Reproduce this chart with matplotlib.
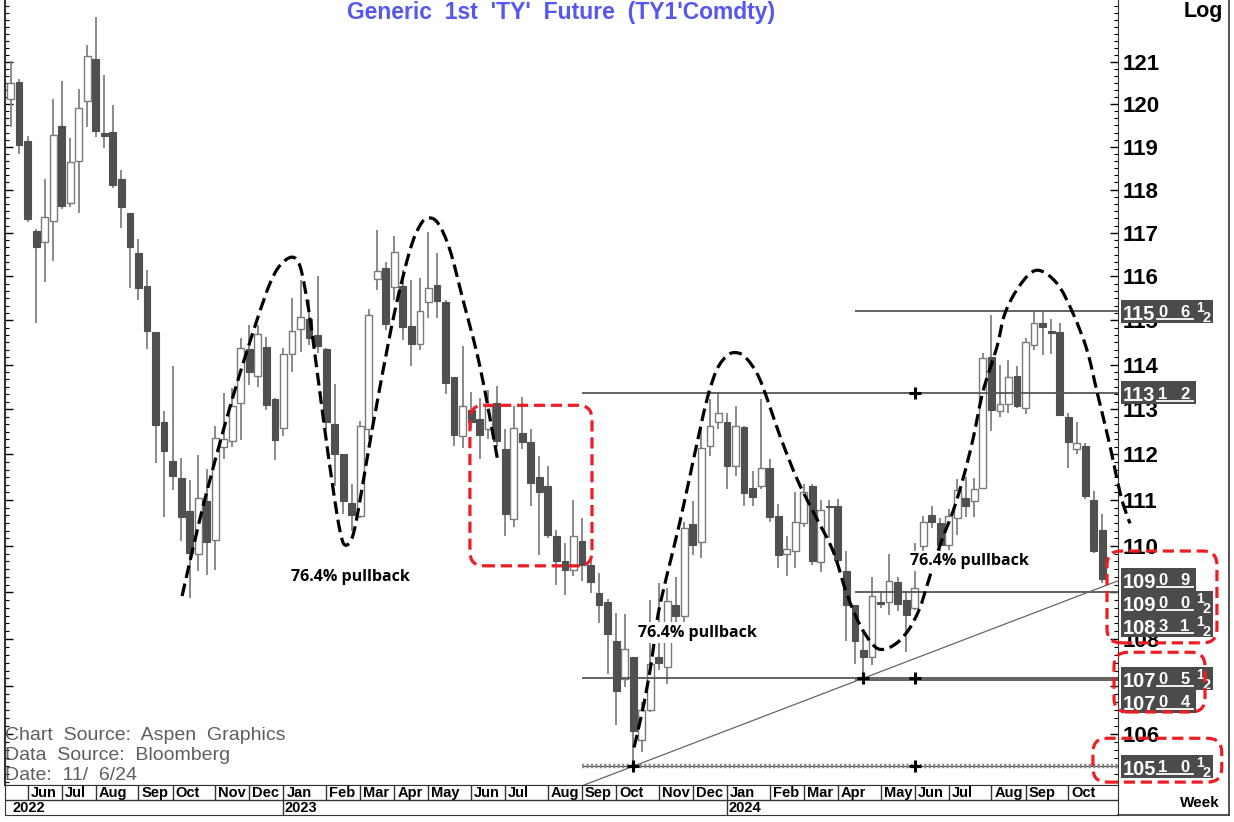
import numpy as np
import pandas as pd
import matplotlib
matplotlib.use("Agg")
import matplotlib.pyplot as plt
from matplotlib import font_manager
from matplotlib.patches import Rectangle, FancyBboxPatch, PathPatch
from matplotlib.path import Path
from matplotlib.lines import Line2D
from matplotlib.transforms import IdentityTransform
from matplotlib.ticker import FixedLocator, NullFormatter

W, H = 1234, 822

# weekly bars, dated by the Monday of each week
week_start = "2022-05-23"
opens = [120.12, 120.52, 119.13, 117.04, 116.78, 117.27, 119.49, 117.69, 118.67, 120.08,
         121.07, 119.32, 119.35, 118.25, 117.45, 116.53, 115.78, 114.74, 112.71, 111.86,
         111.48, 110.75, 109.82, 110.97, 110.12, 112.16, 112.30, 113.15, 114.35, 113.75,
         114.40, 113.22, 112.58, 114.24, 114.80, 115.03, 114.67, 114.35, 112.67, 112.01,
         110.94, 110.66, 112.56, 115.94, 116.19, 115.75, 115.78, 114.87, 114.47, 115.42,
         115.80, 115.42, 113.73, 112.41, 112.98, 112.78, 112.56, 113.15, 112.12, 110.58,
         112.47, 112.27, 111.50, 111.31, 110.21, 109.67, 109.48, 110.10, 109.59, 108.99,
         108.80, 107.95, 107.15, 107.61, 105.87, 106.50, 107.61, 107.40, 108.73, 108.50,
         110.47, 110.08, 112.19, 112.71, 112.71, 111.75, 112.61, 111.27, 111.31, 111.70,
         110.66, 109.82, 109.89, 110.49, 111.31, 109.65, 110.88, 110.86, 109.46, 108.73,
         107.76, 107.63, 108.80, 108.80, 109.22, 108.84, 108.67, 110.00, 110.68, 110.49,
         110.02, 110.60, 111.05, 110.97, 111.27, 114.17, 112.96, 113.13, 113.75, 113.02,
         114.44, 114.94, 114.76, 114.74, 112.82, 112.12, 112.19, 110.99, 110.34]
highs = [121.02, 120.59, 119.25, 117.08, 118.25, 120.12, 120.55, 119.20, 120.36, 121.41,
         122.07, 120.69, 119.98, 118.46, 117.45, 116.85, 116.14, 114.74, 112.96, 113.96,
         111.92, 111.44, 111.99, 111.68, 112.63, 113.37, 113.48, 114.60, 114.90, 114.90,
         114.63, 113.26, 114.38, 115.51, 115.91, 115.46, 116.00, 114.38, 113.57, 112.01,
         111.36, 112.74, 115.26, 117.06, 116.33, 116.92, 116.14, 115.91, 115.96, 117.01,
         116.53, 115.46, 113.73, 114.42, 113.39, 113.26, 113.44, 113.53, 112.56, 113.07,
         113.28, 112.56, 111.97, 111.75, 110.34, 110.06, 110.99, 110.60, 109.74, 109.42,
         108.86, 108.56, 108.54, 107.61, 106.67, 108.84, 109.20, 109.10, 109.33, 110.51,
         110.97, 112.61, 113.22, 113.39, 112.93, 113.07, 112.63, 111.64, 113.22, 111.90,
         110.92, 110.21, 111.18, 111.34, 111.34, 110.99, 111.01, 111.03, 109.89, 108.73,
         108.13, 109.33, 109.03, 109.82, 109.33, 109.03, 110.06, 110.66, 110.86, 110.60,
         110.81, 111.46, 111.51, 111.49, 114.26, 115.12, 114.00, 114.11, 113.96, 114.60,
         115.19, 115.19, 115.03, 114.94, 112.91, 112.71, 112.25, 111.20, 110.70]
lows = [119.46, 118.83, 117.24, 114.94, 115.87, 116.35, 117.55, 117.59, 117.45, 119.46,
        119.23, 118.97, 118.04, 117.10, 115.73, 115.46, 114.35, 111.81, 110.64, 111.23,
        110.10, 108.88, 109.46, 109.37, 109.48, 111.90, 112.16, 112.32, 113.55, 113.50,
        112.98, 111.88, 112.41, 113.84, 114.29, 114.44, 114.26, 112.56, 111.31, 110.70,
        110.32, 110.60, 112.34, 115.69, 114.78, 115.46, 114.56, 113.96, 114.33, 115.06,
        115.06, 113.35, 112.19, 112.14, 112.56, 111.90, 112.34, 112.16, 110.21, 110.42,
        112.12, 110.86, 109.80, 110.17, 109.16, 108.94, 109.35, 109.24, 108.99, 108.35,
        107.25, 106.18, 106.98, 105.33, 105.62, 106.46, 107.34, 107.04, 108.35, 108.35,
        109.80, 109.74, 111.97, 112.56, 111.25, 111.53, 110.86, 110.86, 111.25, 110.53,
        109.52, 109.35, 109.52, 110.42, 109.59, 109.44, 110.17, 109.61, 107.97, 107.48,
        107.17, 107.44, 108.67, 108.52, 108.61, 107.72, 108.63, 109.89, 110.38, 109.85,
        109.91, 110.23, 110.62, 110.62, 111.25, 112.52, 112.82, 112.93, 113.04, 112.89,
        114.33, 114.22, 114.24, 112.87, 111.70, 112.01, 111.03, 109.85, 109.20]
closes = [120.50, 119.04, 117.31, 116.67, 117.36, 119.27, 117.62, 118.64, 119.91, 121.14,
          119.37, 119.25, 118.11, 117.59, 116.67, 115.73, 114.76, 112.65, 112.08, 111.53,
          110.64, 109.85, 111.05, 110.08, 112.36, 112.34, 113.07, 114.38, 113.84, 114.69,
          113.09, 112.32, 114.24, 114.76, 115.08, 114.60, 114.42, 112.71, 112.01, 110.97,
          110.68, 112.63, 115.12, 116.12, 114.92, 116.55, 114.85, 114.47, 115.21, 115.73,
          115.44, 113.59, 112.43, 113.07, 112.71, 112.43, 113.07, 112.30, 110.70, 112.58,
          112.27, 111.38, 111.18, 110.23, 109.67, 109.48, 110.21, 109.59, 109.22, 108.73,
          108.11, 106.90, 107.78, 106.06, 106.50, 107.47, 107.49, 108.82, 108.50, 110.38,
          110.02, 112.14, 112.63, 112.91, 111.75, 112.63, 111.16, 111.07, 111.70, 110.62,
          109.80, 109.93, 110.53, 111.18, 109.67, 110.79, 110.84, 109.69, 108.73, 107.97,
          107.63, 108.93, 108.75, 109.24, 108.75, 108.52, 109.10, 110.51, 110.53, 110.02,
          110.66, 111.23, 110.86, 111.25, 114.15, 112.98, 113.13, 113.73, 113.07, 114.51,
          114.94, 114.85, 114.71, 112.87, 112.27, 112.25, 111.09, 109.89, 109.28]

y_ticks = [106, 107, 108, 109, 110, 111, 112, 113, 114, 115, 116, 117, 118, 119, 120, 121]
# 107 and 109 sit fully under the price tags, so their labels stay blank
y_labels = ["106", "", "108", "", "110", "111", "112", "113", "114", "115", "116",
            "117", "118", "119", "120", "121"]

# horizontal levels and the bar where each starts
levels = [115 + 6.5 / 32, 113 + 12 / 32, 109 + 0.5 / 32, 107 + 5.5 / 32, 107 + 4 / 32]
level_start = [99, 67, 99, 67, 99]
support = 105 + 10.5 / 32
support_start = 67
trend_a = (73, 105 + 10.5 / 32)
trend_b = (100, 107 + 5.5 / 32)
plus_x = [106, 73, 106, 100, 106]
plus_y = [113 + 12 / 32, support, support, 107 + 5.5 / 32, 107 + 5.5 / 32]

# price tags on the right axis: handle, 32nds, half flag
tag_big = ["115", "113", "109", "109", "108", "107", "107", "105"]
tag_small = ["06", "12", "09", "00", "31", "05", "04", "10"]
tag_half = [True, False, False, True, True, True, False, True]
tag_value = [115 + 6.5 / 32, 113 + 12 / 32, 109 + 9 / 32, 109 + 0.5 / 32,
             108 + 31.5 / 32, 107 + 5.5 / 32, 107 + 4 / 32, 105 + 10.5 / 32]

# hand-drawn dashed arcs, (bar, price) waypoints
arc_a = [(20.11, 108.92), (22.22, 110.60), (24.56, 112.27), (26.67, 113.66), (28.90, 115.01),
         (30.42, 115.84), (31.59, 116.25), (33.00, 116.44), (33.94, 116.23), (34.76, 115.46),
         (35.46, 114.56), (36.63, 112.85), (37.81, 111.25), (38.63, 110.32), (39.21, 110.02),
         (40.03, 110.17), (40.74, 110.75), (41.79, 111.90), (43.32, 113.51), (45.08, 115.23),
         (46.83, 116.60), (48.01, 117.17), (48.95, 117.34), (50.12, 117.22), (51.52, 116.60),
         (53.05, 115.46), (55.04, 113.95), (57.15, 111.84)]
arc_b = [(73.10, 105.72), (73.92, 106.35), (74.62, 106.98), (75.21, 107.61), (75.91, 108.52),
         (76.96, 109.37), (78.49, 110.53), (80.01, 111.84), (81.65, 113.22), (82.82, 113.89),
         (84.00, 114.20), (85.05, 114.27), (86.23, 114.15), (87.87, 113.66), (90.21, 112.41),
         (92.21, 111.46), (94.08, 110.75), (96.43, 109.89), (98.07, 108.95), (99.59, 108.30),
         (101.11, 107.88), (102.29, 107.78), (103.93, 107.92), (105.45, 108.24), (106.62, 108.67),
         (107.44, 109.14), (108.97, 110.02), (110.49, 110.75), (111.66, 111.46), (112.84, 112.34),
         (114.01, 113.40), (115.65, 114.40), (116.59, 115.16), (118.35, 115.80), (120.34, 116.14),
         (122.68, 115.84), (124.56, 115.16), (126.20, 114.33), (127.37, 113.40), (128.90, 112.19),
         (129.72, 111.46), (130.42, 110.92), (131.25, 110.49)]

pullback_x = [39.8, 80.5, 112.4]
pullback_y = [109.33, 108.14, 109.67]

# red dashed boxes: bar from, bar to, price top, price bottom
red_boxes = [(53.86, 68.17, 113.09, 109.57), (128.55, 141.44, 109.89, 107.92),
             (129.37, 140.04, 107.72, 106.46), (126.9, 142.0, 105.91, 105.0)]

BOLD = ["Liberation Sans", "DejaVu Sans"]
installed = {f.name for f in font_manager.fontManager.ttflist}
if "Liberation Sans Narrow" in installed:
    NARROW, big_size, small_size, gap = ["Liberation Sans Narrow", "DejaVu Sans"], 17, 13, 0
else:
    NARROW, big_size, small_size, gap = BOLD, 14.5, 12, 4

fig = plt.figure(figsize=(W / 100, H / 100), dpi=100)
ax = fig.add_axes([5 / W, 1 - 785 / H, 1113 / W, 785 / H])
ax.set_yscale("log")
ax.set_ylim(104.94, 122.49)
ax.set_xlim(-0.65, 129.84)

o, h, l, c = map(np.asarray, (opens, highs, lows, closes))
idx = np.arange(len(o))
up = c >= o
lo_b, hi_b = np.minimum(o, c), np.maximum(o, c)
ax.vlines(idx, l, h, color="#8a8a8a", lw=1.4, zorder=2)
ax.bar(idx[up], (hi_b - lo_b)[up], bottom=lo_b[up], width=0.8, color="white",
       edgecolor="#7a7a7a", lw=1.0, zorder=3)
ax.bar(idx[~up], np.maximum(hi_b - lo_b, 0.04)[~up], bottom=lo_b[~up], width=0.8,
       color="#505050", edgecolor="#505050", lw=0.8, zorder=3)

xmax = ax.get_xlim()[1]
for lv, st in zip(levels, level_start):
    ax.hlines(lv, st, xmax, color="#555555", lw=1.3, zorder=4)
ax.hlines(support, support_start, xmax, color="#444444", lw=0.8, zorder=4)
ax.hlines(support, support_start, xmax, color="#888888", lw=3.2,
          linestyles=(0, (0.5, 0.5)), zorder=4)
ax.axline(trend_a, trend_b, color="#666666", lw=0.9, zorder=4)
ax.plot(plus_x, plus_y, ls="none", marker="+", ms=8, mew=2.2, color="black", zorder=6)

# y axis on the right
ax.yaxis.tick_right()
ax.set_yticks(y_ticks, y_labels, fontsize=16, fontweight="bold", family=BOLD)
ax.yaxis.set_minor_locator(FixedLocator(np.arange(105, 122.5, 1 / 6)))
ax.yaxis.set_minor_formatter(NullFormatter())
ax.tick_params(axis="y", which="both", left=True, right=True, direction="in", pad=3)
ax.tick_params(axis="y", which="major", length=6, width=1)
ax.tick_params(axis="y", which="minor", length=3, width=0.8)
ax.set_xticks([])
ax.spines["top"].set_visible(False)
for s in ("left", "right", "bottom"):
    ax.spines[s].set_color("#333333")
ax.spines["left"].set_linewidth(1.5)


def smooth(points):
    P = np.array([ax.transData.transform(p) for p in points])
    verts, codes = [P[0]], [Path.MOVETO]
    for i in range(len(P) - 1):
        p0, p1, p2 = P[max(i - 1, 0)], P[i], P[i + 1]
        p3 = P[min(i + 2, len(P) - 1)]
        verts += [p1 + (p2 - p0) / 6, p2 - (p3 - p1) / 6, p2]
        codes += [Path.CURVE4] * 3
    return Path(verts, codes)


for arc in (arc_a, arc_b):
    ax.add_patch(PathPatch(smooth(arc), transform=IdentityTransform(), fill=False,
                           ec="black", lw=2.3, ls=(0, (4, 1.8)), clip_on=False, zorder=7))

for px_, py_ in zip(pullback_x, pullback_y):
    ax.text(px_, py_, "76.4% pullback", ha="center", va="center", fontsize=11.5,
            fontweight="bold", family=["Open Sans", "DejaVu Sans"], zorder=8,
            bbox=dict(fc="white", ec="none", pad=1.5))

for x0, x1, p0, p1 in red_boxes:
    a = ax.transData.transform((x0, p0))
    b = ax.transData.transform((x1, p1))
    fig.add_artist(FancyBboxPatch((a[0], b[1]), b[0] - a[0], a[1] - b[1],
                                  boxstyle="round,pad=0,rounding_size=14",
                                  transform=IdentityTransform(), fill=False,
                                  ec="#ee1d23", lw=2.3, ls=(0, (3.5, 1.8)), zorder=6))


def ftext(x, y, s, **kw):
    return fig.text(x / W, 1 - y / H, s, **kw)


# price tags
prev = -1e9
for big, small, half, val in zip(tag_big, tag_small, tag_half, tag_value):
    yc = H - ax.transData.transform((0, val))[1]
    top = max(yc - 11.5, prev)
    prev = top + 23
    L = 1121
    w = (88 if half else 71) + gap
    fig.add_artist(Rectangle((L, H - top - 23), w, 23, transform=IdentityTransform(),
                             fc="#4b4b4b", ec="none", zorder=4))
    ftext(L + 2, top + 20, big, color="white", fontsize=big_size, fontweight="bold",
          family=NARROW, va="baseline", ha="left", zorder=5)
    for k, ch in enumerate(small):
        ftext(L + 38 + gap + 22 * k, top + 17.5, ch, color="white", fontsize=small_size,
              fontweight="bold", family=NARROW, va="baseline", ha="center", zorder=5)
    fig.add_artist(Line2D([(L + 32 + gap) / W, (L + 68 + gap) / W],
                          [1 - (top + 19.5) / H] * 2, color="white", lw=1.3, zorder=5))
    if half:
        ftext(L + 75 + gap, top + 12, "1", color="white", fontsize=10, fontweight="bold",
              family=NARROW, va="baseline", ha="center", zorder=5)
        ftext(L + 82 + gap, top + 22.5, "2", color="white", fontsize=10.5,
              fontweight="bold", family=NARROW, va="baseline", ha="center", zorder=5)

# date band
axd = fig.add_axes([5 / W, 1 - 815 / H, 1113 / W, 30 / H])
axd.set_xlim(ax.get_xlim())
axd.set_ylim(0, 2)
axd.set_xticks([])
axd.set_yticks([])
for s in axd.spines.values():
    s.set_color("#333333")
axd.axhline(1, color="#333333", lw=1)
dates = pd.date_range(week_start, periods=len(o), freq="W-MON")
axd.text(0.2, 0.5, str(dates[0].year), ha="left", va="center", fontsize=10.5,
         fontweight="bold", family=BOLD)
for i in range(1, len(dates) - 2):
    if dates[i].month != dates[i - 1].month:
        axd.vlines(i, 1, 2, color="#333333", lw=1)
        axd.text(i + 0.35, 1.5, dates[i].strftime("%b"), ha="left", va="center",
                 fontsize=10.5, fontweight="bold", family=BOLD)
    if dates[i].year != dates[i - 1].year:
        axd.vlines(i, 0, 1, color="#333333", lw=1)
        axd.text(i + 0.15, 0.5, str(dates[i].year), ha="left", va="center",
                 fontsize=10.5, fontweight="bold", family=BOLD)

# frame of the right panel
fig.add_artist(Line2D([1229 / W] * 2, [1 - 815 / H, 1], color="#333333", lw=1.2))
fig.add_artist(Line2D([1118 / W, 1229 / W], [1 - 815 / H] * 2, color="#333333", lw=1.2))

ftext(561, 12, "Generic  1st  'TY'  Future  (TY1'Comdty)", ha="center", va="center",
      fontsize=16.5, fontweight="bold", color="#5656f2", family=BOLD)
ftext(1203, 11, "Log", ha="center", va="center", fontsize=15.5, fontweight="bold",
      family=BOLD)
ftext(1200, 803, "Week", ha="center", va="center", fontsize=11, fontweight="bold",
      family=BOLD)
for k, line in enumerate(["Chart  Source:  Aspen  Graphics", "Data  Source:  Bloomberg",
                          "Date:  11/  6/24"]):
    ftext(5, 735 + 20 * k, line, ha="left", va="center", fontsize=14,
          color="#5e5e5e", family=BOLD)

fig.savefig("out.png", dpi=100)
